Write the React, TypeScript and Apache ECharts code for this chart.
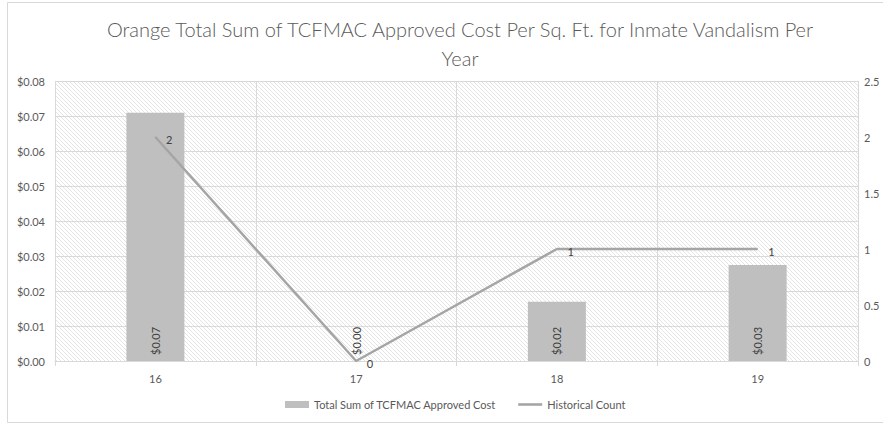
import React, { useEffect, useRef } from "react";
import * as echarts from "echarts";

const categories = ["16", "17", "18", "19"];
const costValues = [0.0709, 0.0, 0.0169, 0.0274];
const countValues = [2, 0, 1, 1];
const leftTicks = { min: 0, max: 0.08, interval: 0.01 };
const rightTicks = { min: 0, max: 2.5, interval: 0.5 };

function makeHatch(): HTMLCanvasElement {
  const c = document.createElement("canvas");
  c.width = 4;
  c.height = 4;
  const ctx = c.getContext("2d")!;
  ctx.fillStyle = "#ffffff";
  ctx.fillRect(0, 0, 4, 4);
  ctx.strokeStyle = "#e4e4e4";
  ctx.lineWidth = 1;
  ctx.beginPath();
  ctx.moveTo(-1, -1);
  ctx.lineTo(5, 5);
  ctx.moveTo(-1, 3);
  ctx.lineTo(1, 5);
  ctx.moveTo(3, -1);
  ctx.lineTo(5, 1);
  ctx.stroke();
  return c;
}

export default function App() {
  const ref = useRef<HTMLDivElement>(null);
  useEffect(() => {
    document.body.style.margin = "0";
    if (!ref.current) return;
    const chart = echarts.init(ref.current, null, { renderer: "svg" });
    const font = "Lato, 'Open Sans', sans-serif";
    chart.setOption({
      animation: false,
      backgroundColor: "#ffffff",
      textStyle: { fontFamily: font },
      title: {
        text: "Orange Total Sum of TCFMAC Approved Cost Per Sq. Ft. for Inmate Vandalism Per\nYear",
        left: 455,
        textAlign: "center",
        top: 9,
        textStyle: {
          fontFamily: font,
          fontSize: 20,
          fontWeight: 300,
          color: "#595959",
          lineHeight: 29,
        },
      },
      graphic: [
        {
          type: "rect",
          shape: { x: 7.5, y: 2.5, width: 890, height: 420 },
          style: { fill: "none", stroke: "#d9d9d9", lineWidth: 1 },
          silent: true,
          z: -1,
        },
      ],
      legend: {
        bottom: 12,
        left: 280,
        itemGap: 22,
        itemHeight: 7,
        itemWidth: 24,
        textStyle: { fontFamily: font, fontSize: 11, color: "#595959" },
        data: [
          { name: "Total Sum of TCFMAC Approved Cost", icon: "rect" },
          { name: "Historical Count", icon: "path://M0,0L28,0L28,3L0,3Z", itemStyle: { color: "#a5a5a5" } },
        ],
      },
      grid: {
        left: 55,
        right: 25,
        top: 81,
        bottom: 66,
        show: true,
        borderWidth: 0,
        backgroundColor: { image: makeHatch(), repeat: "repeat" },
      },
      xAxis: {
        type: "category",
        data: categories,
        boundaryGap: true,
        axisLine: { show: true, lineStyle: { color: "#d9d9d9" } },
        axisTick: { show: true, length: 5, lineStyle: { color: "#d9d9d9" } },
        axisLabel: { color: "#595959", fontSize: 11, margin: 12 },
        splitLine: { show: true, lineStyle: { color: "#d9d9d9" } },
      },
      yAxis: [
        {
          type: "value",
          ...leftTicks,
          axisLine: { show: false },
          axisTick: { show: false },
          axisLabel: {
            color: "#595959",
            fontSize: 11,
            margin: 10,
            formatter: (v: number) => "$" + v.toFixed(2),
          },
          splitLine: { show: true, lineStyle: { color: "#d9d9d9" } },
        },
        {
          type: "value",
          ...rightTicks,
          axisLine: { show: false },
          axisTick: { show: false },
          axisLabel: { color: "#595959", fontSize: 11, margin: 6 },
          splitLine: { show: false },
        },
      ],
      series: [
        {
          name: "Total Sum of TCFMAC Approved Cost",
          type: "bar",
          data: costValues,
          barWidth: 58,
          itemStyle: { color: "#bfbfbf" },
          label: {
            show: true,
            position: "insideBottom",
            rotate: 90,
            align: "left",
            verticalAlign: "middle",
            distance: 6,
            color: "#404040",
            fontSize: 11,
            formatter: (p: any) => "$" + Number(p.value).toFixed(2),
          },
        },
        {
          name: "Historical Count",
          type: "line",
          yAxisIndex: 1,
          data: countValues,
          showSymbol: true,
          symbol: "circle",
          symbolSize: 1,
          lineStyle: { color: "#a5a5a5", width: 2.5 },
          itemStyle: { color: "#a5a5a5" },
          label: {
            show: true,
            position: "right",
            distance: 10,
            color: "#404040",
            fontSize: 11,
            offset: [0, 2],
          },
        },
      ],
    });
    return () => chart.dispose();
  }, []);
  return <div ref={ref} style={{ width: 883, height: 427 }} />;
}
